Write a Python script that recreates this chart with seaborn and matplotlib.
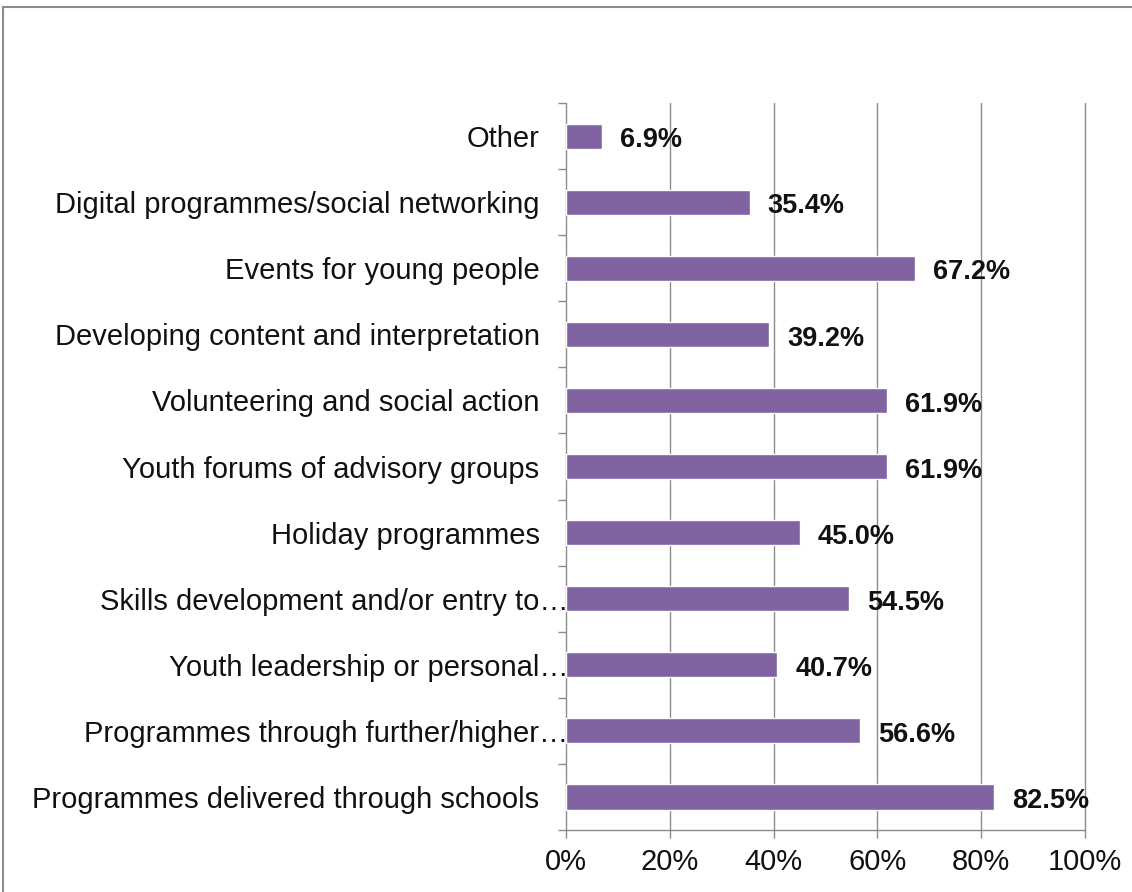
import matplotlib
matplotlib.use("Agg")
import matplotlib.pyplot as plt
import matplotlib.transforms as mtransforms
import seaborn as sns
import pandas as pd
import numpy as np
from matplotlib.ticker import FixedLocator, FuncFormatter
from matplotlib.patches import Rectangle

categories = [
    "Other",
    "Digital programmes/social networking",
    "Events for young people",
    "Developing content and interpretation",
    "Volunteering and social action",
    "Youth forums of advisory groups",
    "Holiday programmes",
    "Skills development and/or entry to\u2026",
    "Youth leadership or personal\u2026",
    "Programmes through further/higher\u2026",
    "Programmes delivered through schools",
]
values = [6.9, 35.4, 67.2, 39.2, 61.9, 61.9, 45.0, 54.5, 40.7, 56.6, 82.5]
x_ticks = [0, 20, 40, 60, 80, 100]

sns.set_theme(style="white")
plt.rcParams["font.family"] = ["Liberation Sans", "DejaVu Sans"]

df = pd.DataFrame({"category": categories, "value": values})

fig = plt.figure(figsize=(11.32, 8.92), dpi=100)
ax = fig.add_axes([0.5, 0.0695, 0.4585, 0.815])

sns.barplot(data=df, x="value", y="category", orient="h", color="#8064A2",
            saturation=1, width=0.38, ax=ax, zorder=3)

ax.set_xlim(0, 100)
ax.set_ylim(len(categories) - 0.5, -0.5)
ax.xaxis.set_major_locator(FixedLocator(x_ticks))
ax.xaxis.set_major_formatter(FuncFormatter(lambda v, p: f"{v:.0f}%"))
ax.grid(False)
for t in x_ticks[1:]:
    ax.axvline(t, color="#8c8c8c", linewidth=1.0, zorder=0, clip_on=False)
ax.set_xlabel("")
ax.set_ylabel("")

for side in ["top", "right"]:
    ax.spines[side].set_visible(False)
for side in ["left", "bottom"]:
    ax.spines[side].set_color("#8c8c8c")
    ax.spines[side].set_linewidth(1.0)

# y ticks: labels at category centres, tick marks between categories
ax.set_yticks(range(len(categories)))
ax.set_yticklabels(categories)
ax.set_yticks(np.arange(-0.5, len(categories), 1.0), minor=True)
ax.tick_params(axis="y", which="major", length=0, pad=19, labelsize=21, labelcolor="#111111")
ax.tick_params(axis="y", which="minor", length=6, color="#8c8c8c", width=1.0, left=True)
ax.tick_params(axis="x", which="major", length=6, color="#8c8c8c", width=1.0,
               bottom=True, labelsize=21, pad=7, labelcolor="#111111")

# truncated category names run right up to the axis
shift = mtransforms.ScaledTranslation(29 / 100, 0, fig.dpi_scale_trans)
for lbl in ax.get_yticklabels():
    if lbl.get_text().endswith("\u2026"):
        lbl.set_transform(lbl.get_transform() + shift)

for i, v in enumerate(values):
    ax.annotate(f"{v:.1f}%", xy=(v, i), xytext=(13, -3), textcoords="offset points",
                ha="left", va="center", fontsize=19.5, fontweight="bold", color="#111111")

# outer frame around the chart
fig.patches.append(Rectangle((0.003, -0.01), 1.02, 1.002, transform=fig.transFigure,
                             fill=False, edgecolor="#8c8c8c", linewidth=1.5, zorder=0))

fig.savefig("out.png", dpi=100)
